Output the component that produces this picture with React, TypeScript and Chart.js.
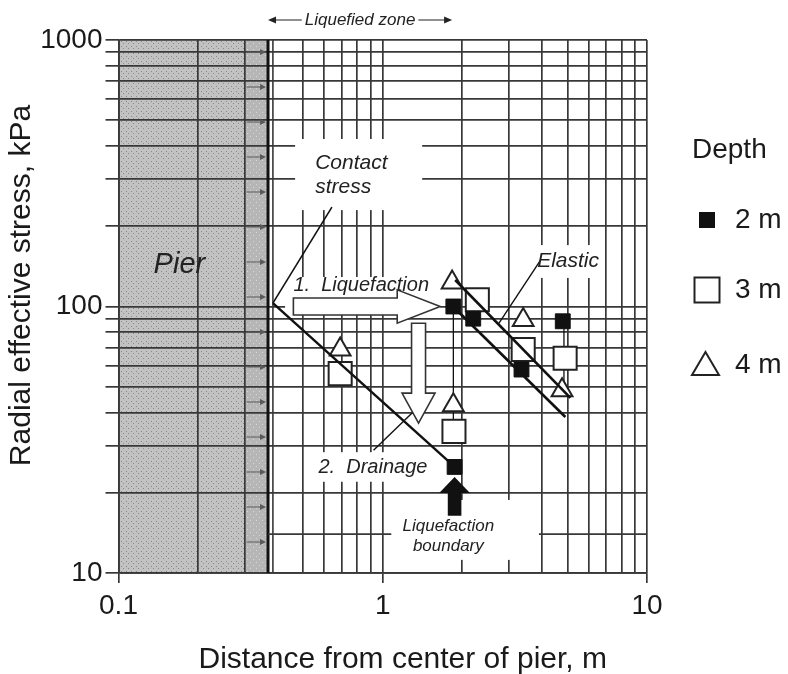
import React, { useEffect, useRef } from "react";
import { Chart, registerables } from "chart.js";

Chart.register(...registerables);

// ---------- axes ----------
const xGridValues = [0.1, 0.2, 0.3, 0.4, 0.5, 0.6, 0.7, 0.8, 0.9, 1, 2, 3, 4, 5, 6, 7, 8, 9, 10];
const yGridValues = [10, 20, 30, 40, 50, 60, 70, 80, 90, 100, 200, 300, 400, 500, 600, 700, 800, 900, 1000];
const xLabelValues = [0.1, 1, 10];
const yLabelValues = [10, 100, 1000];
const xTitle = "Distance from center of pier, m";
const yTitle = "Radial effective stress, kPa";

// ---------- measured points (depth series) ----------
const depth2mX = [1.85, 2.2, 3.35, 4.8, 1.87];
const depth2mY = [100, 90, 58, 88, 25];
const depth3mX = [2.28, 0.69, 3.4, 4.9, 1.86];
const depth3mY = [106, 56, 69, 64, 34];
const depth4mX = [1.83, 0.69, 3.4, 4.77, 1.85];
const depth4mY = [123, 69, 89, 48.5, 42.6];
const legendTitle = "Depth";
const legendLabels = ["2 m", "3 m", "4 m"];

// ---------- zones ----------
const pierX = [0.1, 0.3];
const pierStripX = [0.3, 0.368];
const contactFaceX = 0.384;
const liquefiedZoneX = [0.368, 1.83];

// ---------- lines ----------
const contactLeaderX = [0.384, 0.642];
const contactLeaderY = [103, 236];
const liquefactionLineX = [0.384, 1.78];
const liquefactionLineY = [103, 26.2];
const elasticUpperX = [1.88, 5.13];
const elasticUpperY = [125.7, 45.4];
const elasticLowerX = [1.845, 4.91];
const elasticLowerY = [100, 38.5];
const elasticLeaderX = [2.75, 3.95];
const elasticLeaderY = [86.5, 149];
const drainageLeaderX = [0.923, 1.366];
const drainageLeaderY = [28.9, 42.1];
const connectorAX = [1.85, 1.85];
const connectorAY = [100, 34];
const connectorBX = [4.85, 4.85];
const connectorBY = [88, 49];
// extra horizontal rule near the bottom (split around the boundary label)
const lowRuleLeftX = [0.368, 1.077];
const lowRuleRightX = [3.9, 10];
const lowRuleY = [14, 14];

// ---------- block arrows (tail -> tip) ----------
const liquefactionArrowX = [0.459, 1.65];
const liquefactionArrowY = [100, 100];
const drainageArrowX = [1.366, 1.366];
const drainageArrowY = [86.5, 36.5];
const boundaryArrowX = [1.87, 1.87];
const boundaryArrowY = [16.5, 22.7];

// ---------- annotation texts ----------
const noteTexts = ["Contact", "stress", "1.  Liquefaction", "2.  Drainage", "Elastic", "Liquefaction", "boundary", "Pier"];
const noteX = [0.555, 0.555, 0.459, 0.571, 3.84, 1.771, 1.771, 0.17];
const noteY = [345, 281, 120, 25, 148, 15.0, 12.6, 143];
const zoneText = "Liquefied zone";

// white masks behind labels
const maskX = [[0.466, 1.41], [0.427, 1.65], [0.541, 1.608], [1.077, 3.9], [3.62, 6.667]];
const maskY = [[230, 425], [94, 129], [22, 28.4], [11.2, 18.8], [128, 170]];

const FONT = '"Liberation Sans", Arial, Helvetica, sans-serif';
const INK = "#1a1a1a";
const GRID = "#383838";

const toPts = (xs: number[], ys: number[]) => xs.map((x, i) => ({ x, y: ys[i] }));

function lineDataset(xs: number[], ys: number[], width: number, order = 0, color = "#111") {
  return {
    type: "scatter" as const,
    data: toPts(xs, ys),
    showLine: true,
    borderColor: color,
    backgroundColor: color,
    borderWidth: width,
    pointRadius: 0,
    fill: false,
    order,
  };
}

function blockArrow(ctx: CanvasRenderingContext2D, x1: number, y1: number, x2: number, y2: number,
  shaftHalf: number, headHalf: number, headLen: number, fill: string, stroke: string) {
  const len = Math.hypot(x2 - x1, y2 - y1);
  const dx = (x2 - x1) / len, dy = (y2 - y1) / len;
  const nx = -dy, ny = dx;
  const bx = x2 - dx * headLen, by = y2 - dy * headLen;
  ctx.beginPath();
  ctx.moveTo(x1 + nx * shaftHalf, y1 + ny * shaftHalf);
  ctx.lineTo(bx + nx * shaftHalf, by + ny * shaftHalf);
  ctx.lineTo(bx + nx * headHalf, by + ny * headHalf);
  ctx.lineTo(x2, y2);
  ctx.lineTo(bx - nx * headHalf, by - ny * headHalf);
  ctx.lineTo(bx - nx * shaftHalf, by - ny * shaftHalf);
  ctx.lineTo(x1 - nx * shaftHalf, y1 - ny * shaftHalf);
  ctx.closePath();
  ctx.fillStyle = fill;
  ctx.fill();
  ctx.lineWidth = 1.6;
  ctx.strokeStyle = stroke;
  ctx.stroke();
}

function makePattern(ctx: CanvasRenderingContext2D, bg: string, dot: string, step: number) {
  const c = document.createElement("canvas");
  c.width = step;
  c.height = step;
  const g = c.getContext("2d")!;
  g.fillStyle = bg;
  g.fillRect(0, 0, step, step);
  g.fillStyle = dot;
  g.fillRect(1, 1, 1, 1);
  g.fillRect(Math.floor(step / 2) + 1, Math.floor(step / 2) + 1, 1, 1);
  return ctx.createPattern(c, "repeat")!;
}

const decorPlugin = {
  id: "decor",
  beforeDraw(chart: any) {
    const { ctx, chartArea } = chart;
    const xs = chart.scales.x;
    const top = chartArea.top, bottom = chartArea.bottom;
    const a = xs.getPixelForValue(pierX[0]);
    const b = xs.getPixelForValue(pierX[1]);
    const c = xs.getPixelForValue(pierStripX[1]);
    ctx.save();
    ctx.fillStyle = makePattern(ctx, "#c2c2c2", "#8a8a8a", 5);
    ctx.fillRect(a, top, b - a, bottom - top);
    ctx.fillStyle = makePattern(ctx, "#b6b6b6", "#d6d6d6", 6);
    ctx.fillRect(b, top, c - b, bottom - top);
    ctx.restore();
  },
  beforeDatasetsDraw(chart: any) {
    const { ctx, chartArea } = chart;
    const xs = chart.scales.x, ys = chart.scales.y;
    ctx.save();
    // white masks behind labels
    ctx.fillStyle = "#ffffff";
    maskX.forEach((mx, i) => {
      const x0 = xs.getPixelForValue(mx[0]), x1 = xs.getPixelForValue(mx[1]);
      const y0 = ys.getPixelForValue(maskY[i][1]), y1 = ys.getPixelForValue(maskY[i][0]);
      ctx.fillRect(x0, y0, x1 - x0, y1 - y0);
    });
    // small arrows in the pier strip
    const sx0 = xs.getPixelForValue(pierStripX[0]) + 2;
    const sx1 = xs.getPixelForValue(pierStripX[1]) - 2;
    ctx.strokeStyle = "#5a5a5a";
    ctx.fillStyle = "#5a5a5a";
    ctx.lineWidth = 1;
    for (let y = chartArea.top + 12; y < chartArea.bottom - 20; y += 35) {
      ctx.beginPath();
      ctx.moveTo(sx0, y);
      ctx.lineTo(sx1 - 4, y);
      ctx.stroke();
      ctx.beginPath();
      ctx.moveTo(sx1, y);
      ctx.lineTo(sx1 - 6, y - 3);
      ctx.lineTo(sx1 - 6, y + 3);
      ctx.closePath();
      ctx.fill();
    }
    // pier edge (thick line) and contact face (thin line)
    const ex = xs.getPixelForValue(pierStripX[1]);
    ctx.strokeStyle = "#111";
    ctx.lineWidth = 3;
    ctx.beginPath();
    ctx.moveTo(ex, chartArea.top);
    ctx.lineTo(ex, chartArea.bottom);
    ctx.stroke();
    const fx = xs.getPixelForValue(contactFaceX);
    ctx.strokeStyle = GRID;
    ctx.lineWidth = 1.6;
    ctx.beginPath();
    ctx.moveTo(fx, chartArea.top);
    ctx.lineTo(fx, chartArea.bottom);
    ctx.stroke();
    ctx.restore();
  },
  afterDatasetsDraw(chart: any) {
    const { ctx, chartArea } = chart;
    const xs = chart.scales.x, ys = chart.scales.y;
    const X = (v: number) => xs.getPixelForValue(v);
    const Y = (v: number) => ys.getPixelForValue(v);
    ctx.save();
    blockArrow(ctx, X(liquefactionArrowX[0]), Y(liquefactionArrowY[0]), X(liquefactionArrowX[1]), Y(liquefactionArrowY[1]),
      8.5, 16.7, 43, "#ffffff", "#333");
    blockArrow(ctx, X(drainageArrowX[0]), Y(drainageArrowY[0]), X(drainageArrowX[1]), Y(drainageArrowY[1]),
      7, 16.5, 30, "#ffffff", "#333");
    blockArrow(ctx, X(boundaryArrowX[0]), Y(boundaryArrowY[0]), X(boundaryArrowX[1]), Y(boundaryArrowY[1]),
      6, 13.5, 14, "#111", "#111");

    // annotation texts
    const styles = [
      { size: 21, align: "left" }, { size: 21, align: "left" },
      { size: 20, align: "left" }, { size: 20, align: "left" },
      { size: 21, align: "left" }, { size: 17, align: "center" },
      { size: 17, align: "center" }, { size: 29, align: "center" },
    ];
    ctx.fillStyle = "#222";
    ctx.textBaseline = "middle";
    noteTexts.forEach((t, i) => {
      ctx.font = `italic ${styles[i].size}px ${FONT}`;
      ctx.textAlign = styles[i].align as CanvasTextAlign;
      ctx.fillText(t, X(noteX[i]), Y(noteY[i]));
    });

    // liquefied zone marker above plot
    const zx0 = X(liquefiedZoneX[0]), zx1 = X(liquefiedZoneX[1]);
    const zy = chartArea.top - 20;
    ctx.font = `italic 17px ${FONT}`;
    ctx.textAlign = "center";
    const mid = (zx0 + zx1) / 2;
    const w = ctx.measureText(zoneText).width;
    ctx.fillText(zoneText, mid, zy);
    ctx.strokeStyle = "#222";
    ctx.lineWidth = 1.2;
    ctx.beginPath();
    ctx.moveTo(mid - w / 2 - 3, zy);
    ctx.lineTo(zx0 + 4, zy);
    ctx.moveTo(mid + w / 2 + 3, zy);
    ctx.lineTo(zx1 - 4, zy);
    ctx.stroke();
    ctx.beginPath();
    ctx.moveTo(zx0, zy); ctx.lineTo(zx0 + 8, zy - 3.5); ctx.lineTo(zx0 + 8, zy + 3.5); ctx.closePath();
    ctx.moveTo(zx1, zy); ctx.lineTo(zx1 - 8, zy - 3.5); ctx.lineTo(zx1 - 8, zy + 3.5); ctx.closePath();
    ctx.fillStyle = "#222";
    ctx.fill();
    ctx.restore();
  },
  afterDraw(chart: any) {
    const { ctx, chartArea } = chart;
    const lx = chartArea.right;
    const ty = chartArea.top;
    ctx.save();
    // axis titles
    ctx.fillStyle = INK;
    ctx.textBaseline = "middle";
    ctx.textAlign = "center";
    ctx.font = `30px ${FONT}`;
    ctx.fillText(xTitle, (chartArea.left + chartArea.right) / 2 + 20, chartArea.bottom + 87);
    ctx.save();
    ctx.translate(22, (chartArea.top + chartArea.bottom) / 2 - 21);
    ctx.rotate(-Math.PI / 2);
    ctx.fillText(yTitle, 0, 0);
    ctx.restore();

    // legend
    ctx.textAlign = "left";
    ctx.font = `28px ${FONT}`;
    ctx.fillText(legendTitle, lx + 45, ty + 110);
    const rows = [ty + 180, ty + 250, ty + 325];
    const mx = lx + 60;
    ctx.fillStyle = "#111";
    ctx.fillRect(mx - 8, rows[0] - 8, 16, 16);
    ctx.strokeStyle = "#222";
    ctx.lineWidth = 2;
    ctx.fillStyle = "#fff";
    ctx.fillRect(mx - 12.5, rows[1] - 12.5, 25, 25);
    ctx.strokeRect(mx - 12.5, rows[1] - 12.5, 25, 25);
    ctx.beginPath();
    ctx.moveTo(mx - 1.5, rows[2] - 13);
    ctx.lineTo(mx + 12, rows[2] + 10);
    ctx.lineTo(mx - 15, rows[2] + 10);
    ctx.closePath();
    ctx.fill();
    ctx.stroke();
    ctx.fillStyle = INK;
    legendLabels.forEach((t, i) => ctx.fillText(t, lx + 88, rows[i]));
    ctx.restore();
  },
};

export default function App() {
  const ref = useRef<HTMLCanvasElement>(null);
  useEffect(() => {
    const chart = new Chart(ref.current!, {
      type: "scatter",
      data: {
        datasets: [
          lineDataset(contactLeaderX, contactLeaderY, 1.6),
          lineDataset(liquefactionLineX, liquefactionLineY, 2.4),
          lineDataset(elasticUpperX, elasticUpperY, 2.6),
          lineDataset(elasticLowerX, elasticLowerY, 2.6),
          lineDataset(elasticLeaderX, elasticLeaderY, 1.4),
          lineDataset(drainageLeaderX, drainageLeaderY, 1.4),
          {
            label: "2 m", data: toPts(depth2mX, depth2mY), pointStyle: "rect", pointRadius: 10.5,
            backgroundColor: "#111", borderColor: "#111", borderWidth: 1, order: 1,
          },
          {
            label: "3 m", data: toPts(depth3mX, depth3mY), pointStyle: "rect", pointRadius: 16.3,
            backgroundColor: "#fff", borderColor: "#222", borderWidth: 2, order: 1,
          },
          {
            label: "4 m", data: toPts(depth4mX, depth4mY), pointStyle: "triangle", pointRadius: 12,
            backgroundColor: "#fff", borderColor: "#222", borderWidth: 2, order: 1,
          },
          lineDataset(connectorAX, connectorAY, 1.3, 2),
          lineDataset(connectorBX, connectorBY, 1.3, 2),
          lineDataset(lowRuleLeftX, lowRuleY, 1.7, 3, GRID),
          lineDataset(lowRuleRightX, lowRuleY, 1.7, 3, GRID),
        ] as any,
      },
      options: {
        responsive: false,
        animation: false,
        devicePixelRatio: 1,
        events: [],
        layout: { padding: { top: 40, right: 141, bottom: 0, left: 0 } },
        plugins: { legend: { display: false }, tooltip: { enabled: false } },
        scales: {
          x: {
            type: "logarithmic",
            min: 0.1,
            max: 10,
            afterBuildTicks: (scale: any) => { scale.ticks = xGridValues.map((v) => ({ value: v })); },
            afterFit: (scale: any) => { scale.height = 101; },
            ticks: {
              autoSkip: false,
              maxRotation: 0,
              padding: 6,
              color: INK,
              font: { family: FONT, size: 28 },
              callback: (v: any) => (xLabelValues.includes(v) ? String(v) : ""),
            },
            grid: {
              color: (c: any) => (c.tick && c.tick.value === 0.4 ? "rgba(0,0,0,0)" : GRID),
              lineWidth: 1.7,
              tickLength: 10,
              tickColor: (c: any) => (c.tick && xLabelValues.includes(c.tick.value) ? GRID : "rgba(0,0,0,0)"),
            },
            border: { display: true, color: GRID, width: 1.8 },
            title: { display: false, text: xTitle },
          },
          y: {
            type: "logarithmic",
            min: 10,
            max: 1000,
            afterBuildTicks: (scale: any) => { scale.ticks = yGridValues.map((v) => ({ value: v })); },
            afterFit: (scale: any) => { scale.width = 118.5; },
            ticks: {
              autoSkip: false,
              padding: 3,
              color: INK,
              font: { family: FONT, size: 28 },
              callback: (v: any) => (yLabelValues.includes(v) ? String(v) : ""),
            },
            grid: { color: GRID, lineWidth: 1.7, tickLength: 13, tickColor: GRID },
            border: { display: true, color: GRID, width: 1.8 },
            title: { display: false, text: yTitle },
          },
        },
      } as any,
      plugins: [decorPlugin],
    });
    return () => chart.destroy();
  }, []);
  return (
    <div style={{ position: "fixed", left: 0, top: 0, width: 788, height: 674, background: "#fff" }}>
      <canvas ref={ref} width={788} height={674} style={{ display: "block", width: 788, height: 674 }} />
    </div>
  );
}
